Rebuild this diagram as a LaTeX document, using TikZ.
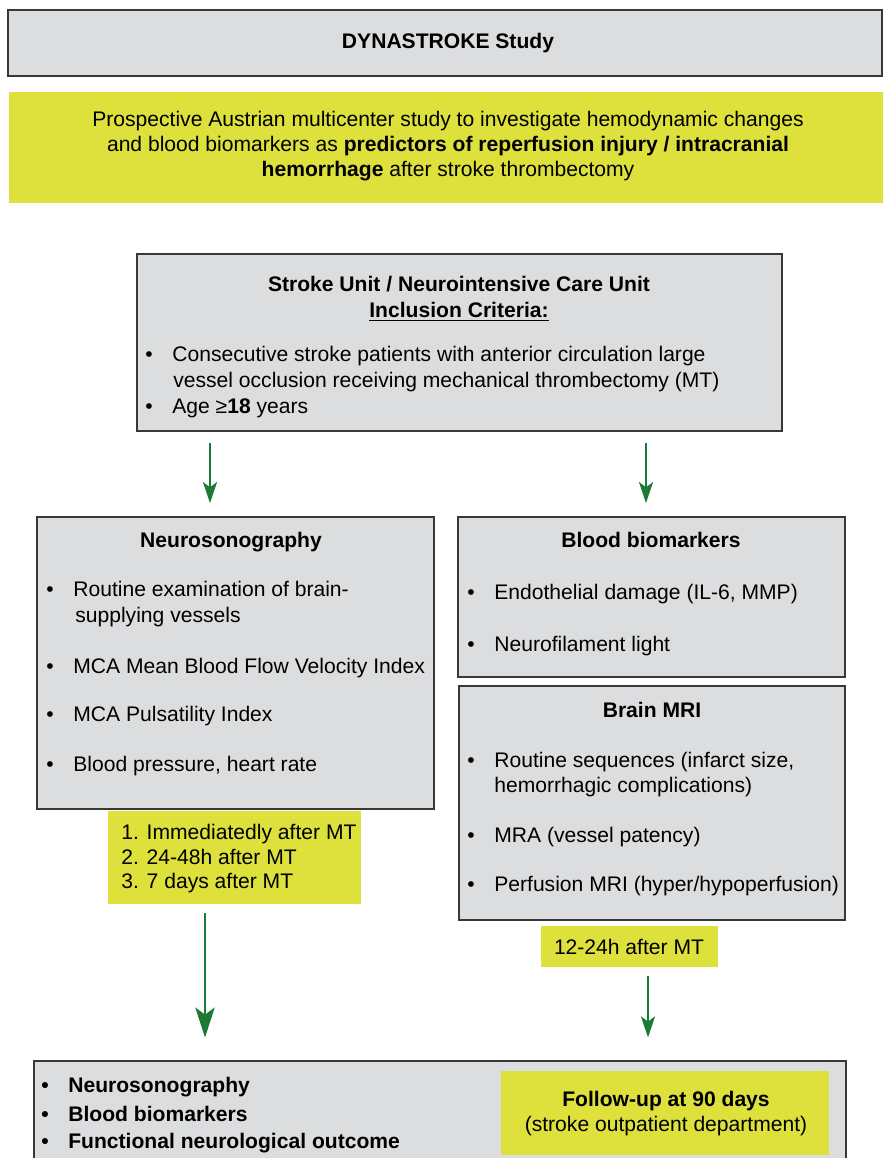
\documentclass[tikz,border=0pt]{standalone}
\usepackage{fontspec}
\setmainfont{Liberation Sans}
\usetikzlibrary{positioning,fit,arrows.meta}
\definecolor{boxgray}{RGB}{220,221,223}
\definecolor{lime}{RGB}{222,224,60}
\definecolor{flowgreen}{RGB}{28,122,52}
\newcommand{\itm}{\makebox[0.54cm][l]{\textbullet}}
\begin{document}
\begin{tikzpicture}[x=0.02cm, y=-0.02cm, font=\fontsize{12}{14.2}\selectfont,
  graybox/.style={draw=black!78, fill=boxgray, line width=0.8pt, inner sep=0pt},
  limebox/.style={fill=lime, inner sep=0pt},
  txt/.style={anchor=base west, inner sep=0pt},
  ctr/.style={anchor=base, inner sep=0pt},
  hd/.style={ctr, font=\fontsize{12}{14.2}\selectfont\bfseries},
  flow/.style={draw=flowgreen, line width=1.2pt, -{Stealth[length=12pt,width=8pt,inset=3pt]}},
  bigflow/.style={draw=flowgreen, line width=1.6pt, -{Stealth[length=17pt,width=11pt,inset=4pt]}}]
\useasboundingbox (0,0) rectangle (883,1158);
% boxes
\node [graybox, fit={(8,10) (882,76)}] (study) {};
\node [limebox, fit={(9,92) (883,203)}] (aim) {};
\node [graybox, fit={(137,254) (782,431)}] (incl) {};
\node [graybox, fit={(37,517) (434,809)}] (neuro) {};
\node [limebox, fit={(108,811) (361,904)}] (neurotime) {};
\node [graybox, fit={(458,517) (845,677)}] (blood) {};
\node [graybox, fit={(459,686) (845,920)}] (mri) {};
\node [limebox, fit={(541,926) (718,967)}] (mritime) {};
\node [graybox, fit={(34,1061) (846,1175)}] (fu) {};
\node [limebox, fit={(501,1071) (829,1155)}] (futime) {};
% title and aim
\node [hd] (studytxt) at (448,49) {DYNASTROKE Study};
\node [ctr] (aim1) at (448,127) {Prospective Austrian multicenter study to investigate hemodynamic changes};
\node [ctr] (aim2) at (448,152) {and blood biomarkers as \textbf{predictors of reperfusion injury / intracranial}};
\node [ctr] (aim3) at (448,177) {\textbf{hemorrhage} after stroke thrombectomy};
% inclusion
\node [hd] (incl1) at (459,292) {Stroke Unit / Neurointensive Care Unit};
\node [hd] (incl2) at (459,318) {\underline{Inclusion Criteria:}};
\node [txt] (incl3) at (145,361) {\itm Consecutive stroke patients with anterior circulation large};
\node [txt] (incl4) at (173,387) {vessel occlusion receiving mechanical thrombectomy (MT)};
\node [txt] (incl5) at (145,413) {\itm Age ≥\textbf{18} years};
% neurosonography
\node [hd] (neuro0) at (231,547) {Neurosonography};
\node [txt] (neuro1) at (46,596) {\itm Routine examination of brain-};
\node [txt] (neuro2) at (75,622) {supplying vessels};
\node [txt] (neuro3) at (46,673) {\itm MCA Mean Blood Flow Velocity Index};
\node [txt] (neuro4) at (46,721) {\itm MCA Pulsatility Index};
\node [txt] (neuro5) at (46,771) {\itm Blood pressure, heart rate};
\node [txt] (nt1) at (121,839) {1. Immediatedly after MT};
\node [txt] (nt2) at (121,864) {2. 24-48h after MT};
\node [txt] (nt3) at (121,888) {3. 7 days after MT};
% biomarkers
\node [hd] (blood0) at (651,547) {Blood biomarkers};
\node [txt] (blood1) at (467,599) {\itm Endothelial damage (IL-6, MMP)};
\node [txt] (blood2) at (467,651) {\itm Neurofilament light};
% mri
\node [hd] (mri0) at (652,717) {Brain MRI};
\node [txt] (mri1) at (467,767) {\itm Routine sequences (infarct size,};
\node [txt] (mri2) at (494,792) {hemorrhagic complications)};
\node [txt] (mri3) at (467,842) {\itm MRA (vessel patency)};
\node [txt] (mri4) at (467,891) {\itm Perfusion MRI (hyper/hypoperfusion)};
\node [ctr] (mt) at (629,954) {12-24h after MT};
% follow-up
\node [txt, font=\fontsize{12}{14.2}\selectfont\bfseries] (fu1) at (41,1092) {\itm Neurosonography};
\node [txt, font=\fontsize{12}{14.2}\selectfont\bfseries] (fu2) at (41,1121) {\itm Blood biomarkers};
\node [txt, font=\fontsize{12}{14.2}\selectfont\bfseries] (fu3) at (41,1148) {\itm Functional neurological outcome};
\node [hd] (fut1) at (666,1106) {Follow-up at 90 days};
\node [ctr] (fut2) at (666,1131) {(stroke outpatient department)};
% arrows
\coordinate (colL) at (210,0);
\coordinate (colR) at (646,0);
\coordinate (colLL) at (205,0);
\coordinate (colRR) at (648,0);
\draw [flow, shorten <=6.5pt, shorten >=7.5pt] (incl.south -| colL) -- (neuro.north -| colL);
\draw [flow, shorten <=6.5pt, shorten >=7.5pt] (incl.south -| colR) -- (blood.north -| colR);
\draw [bigflow, shorten <=5pt, shorten >=13pt] (neurotime.south -| colLL) -- (fu.north -| colLL);
\draw [flow, shorten <=5pt, shorten >=13pt] (mritime.south -| colRR) -- (fu.north -| colRR);
\end{tikzpicture}
\end{document}
